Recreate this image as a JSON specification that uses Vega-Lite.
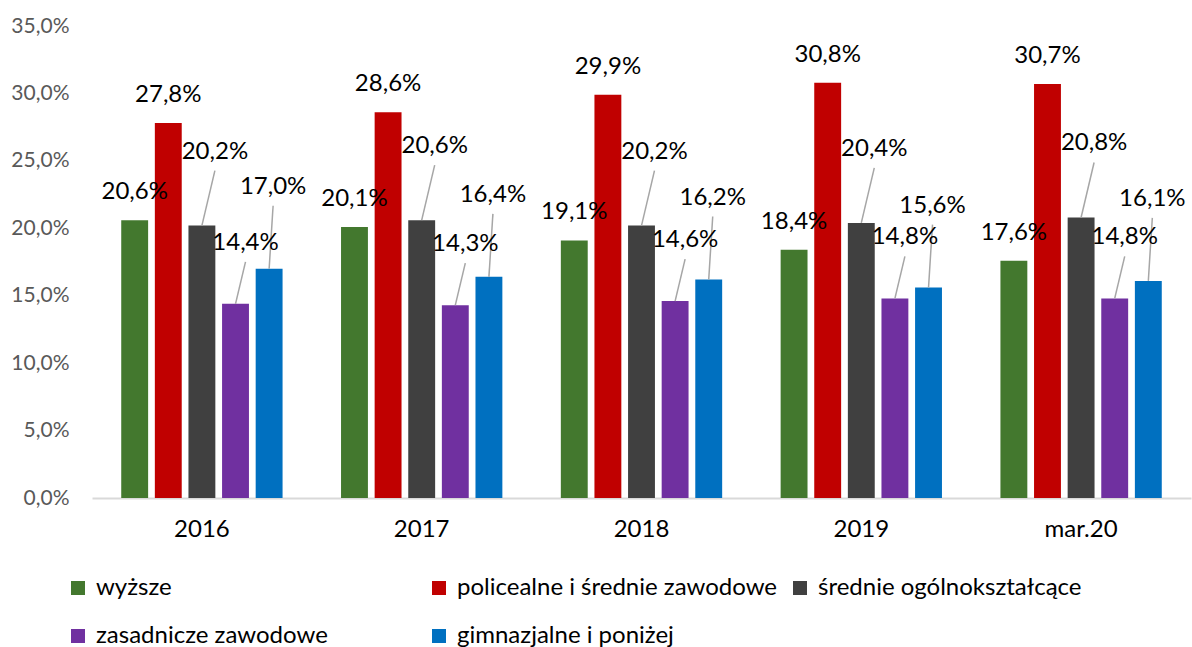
{
  "$schema": "https://vega.github.io/schema/vega-lite/v6.json",
  "width": 1099,
  "height": 472,
  "autosize": {"type": "none"},
  "padding": {"left": 92, "top": 26, "right": 1, "bottom": 149},
  "background": "white",
  "config": {
    "view": {"stroke": null},
    "font": "Lato",
    "locale": {"number": {"decimal": ",", "thousands": "\u00a0", "grouping": [3], "currency": ["", " zł"]}},
    "axisX": {"domainColor": "#D9D9D9", "domainWidth": 2, "ticks": false, "labelFont": "Lato", "labelFontSize": 24, "labelColor": "#000000", "labelPadding": 19, "labelAngle": 0, "title": null, "grid": false},
    "axisY": {"domain": false, "ticks": false, "grid": false, "labelFont": "Lato", "labelFontSize": 21, "labelColor": "#595959", "labelPadding": 23, "title": null},
    "legend": {"orient": "none", "direction": "horizontal", "legendX": -26, "legendY": 550, "columns": 3, "gridAlign": "all", "symbolType": "square", "symbolSize": 196, "symbolStrokeWidth": 0, "labelFont": "Lato", "labelFontSize": 24, "labelColor": "#000000", "labelOffset": 6, "rowPadding": 24, "columnPadding": 10, "title": null, "labelLimit": 600}
  },
  "datasets": {
    "rows": [
      {"year": "2016", "series": "wyższe", "value": 0.206},
      {"year": "2016", "series": "policealne i średnie zawodowe", "value": 0.278},
      {"year": "2016", "series": "średnie ogólnokształcące", "value": 0.202},
      {"year": "2016", "series": "zasadnicze zawodowe", "value": 0.144},
      {"year": "2016", "series": "gimnazjalne i poniżej", "value": 0.170},
      {"year": "2017", "series": "wyższe", "value": 0.201},
      {"year": "2017", "series": "policealne i średnie zawodowe", "value": 0.286},
      {"year": "2017", "series": "średnie ogólnokształcące", "value": 0.206},
      {"year": "2017", "series": "zasadnicze zawodowe", "value": 0.143},
      {"year": "2017", "series": "gimnazjalne i poniżej", "value": 0.164},
      {"year": "2018", "series": "wyższe", "value": 0.191},
      {"year": "2018", "series": "policealne i średnie zawodowe", "value": 0.299},
      {"year": "2018", "series": "średnie ogólnokształcące", "value": 0.202},
      {"year": "2018", "series": "zasadnicze zawodowe", "value": 0.146},
      {"year": "2018", "series": "gimnazjalne i poniżej", "value": 0.162},
      {"year": "2019", "series": "wyższe", "value": 0.184},
      {"year": "2019", "series": "policealne i średnie zawodowe", "value": 0.308},
      {"year": "2019", "series": "średnie ogólnokształcące", "value": 0.204},
      {"year": "2019", "series": "zasadnicze zawodowe", "value": 0.148},
      {"year": "2019", "series": "gimnazjalne i poniżej", "value": 0.156},
      {"year": "mar.20", "series": "wyższe", "value": 0.176},
      {"year": "mar.20", "series": "policealne i średnie zawodowe", "value": 0.307},
      {"year": "mar.20", "series": "średnie ogólnokształcące", "value": 0.208},
      {"year": "mar.20", "series": "zasadnicze zawodowe", "value": 0.148},
      {"year": "mar.20", "series": "gimnazjalne i poniżej", "value": 0.161}
    ]
  },
  "data": {"name": "rows"},
  "encoding": {
    "x": {"field": "year", "type": "nominal", "sort": ["2016", "2017", "2018", "2019", "mar.20"], "scale": {"paddingInner": 0.266, "paddingOuter": 0.133}},
    "xOffset": {"field": "series", "type": "nominal", "scale": {"domain": ["wyższe", "policealne i średnie zawodowe", "średnie ogólnokształcące", "zasadnicze zawodowe", "gimnazjalne i poniżej"], "paddingInner": 0.2, "paddingOuter": 0}},
    "y": {"field": "value", "type": "quantitative", "scale": {"domain": [0, 0.35], "nice": false, "zero": true}, "axis": {"format": ".1%", "values": [0, 0.05, 0.1, 0.15, 0.2, 0.25, 0.3, 0.35]}}
  },
  "layer": [
    {
      "mark": {"type": "bar"},
      "encoding": {
        "color": {"field": "series", "type": "nominal", "scale": {"domain": ["wyższe", "policealne i średnie zawodowe", "średnie ogólnokształcące", "zasadnicze zawodowe", "gimnazjalne i poniżej"], "range": ["#43782E", "#C00000", "#404040", "#7030A0", "#0070C0"]}}
      }
    },
    {
      "transform": [{"filter": "datum.series === 'średnie ogólnokształcące'"}],
      "mark": {"type": "rule", "color": "#A6A6A6", "strokeWidth": 1.5, "y2Offset": -55},
      "encoding": {"x2": {"field": "year", "bandPosition": 0.5805}, "y2": {"field": "value"}}
    },
    {
      "transform": [{"filter": "datum.series === 'zasadnicze zawodowe'"}],
      "mark": {"type": "rule", "color": "#A6A6A6", "strokeWidth": 1.5, "y2Offset": -42},
      "encoding": {"x2": {"field": "year", "bandPosition": 0.7703}, "y2": {"field": "value"}}
    },
    {
      "transform": [{"filter": "datum.series === 'gimnazjalne i poniżej'"}],
      "mark": {"type": "rule", "color": "#A6A6A6", "strokeWidth": 1.5, "y2Offset": -63},
      "encoding": {"x2": {"field": "year", "bandPosition": 0.9414}, "y2": {"field": "value"}}
    },
    {
      "transform": [{"filter": "datum.series === 'wyższe' || datum.series === 'policealne i średnie zawodowe'"}],
      "mark": {"type": "text", "font": "Lato", "fontSize": 24, "color": "#000000", "baseline": "middle", "align": "center", "dy": -28},
      "encoding": {"text": {"field": "value", "type": "quantitative", "format": ".1%"}}
    },
    {
      "transform": [{"filter": "datum.series === 'średnie ogólnokształcące'"}],
      "mark": {"type": "text", "font": "Lato", "fontSize": 24, "color": "#000000", "baseline": "middle", "align": "center", "dx": 13, "dy": -74},
      "encoding": {"text": {"field": "value", "type": "quantitative", "format": ".1%"}}
    },
    {
      "transform": [{"filter": "datum.series === 'zasadnicze zawodowe'"}],
      "mark": {"type": "text", "font": "Lato", "fontSize": 24, "color": "#000000", "baseline": "middle", "align": "center", "dx": 10, "dy": -61},
      "encoding": {"text": {"field": "value", "type": "quantitative", "format": ".1%"}}
    },
    {
      "transform": [{"filter": "datum.series === 'gimnazjalne i poniżej'"}],
      "mark": {"type": "text", "font": "Lato", "fontSize": 24, "color": "#000000", "baseline": "middle", "align": "center", "dx": 4, "dy": -82},
      "encoding": {"text": {"field": "value", "type": "quantitative", "format": ".1%"}}
    }
  ]
}
